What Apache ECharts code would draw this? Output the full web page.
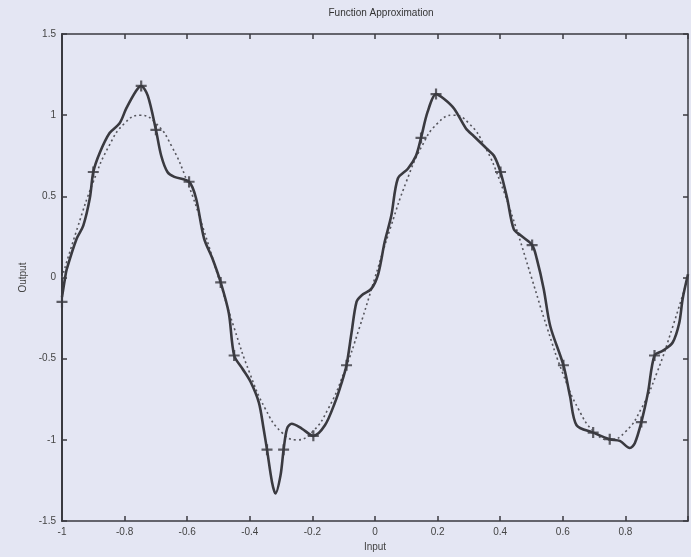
<!DOCTYPE html>
<html>
<head>
<meta charset="utf-8">
<script src="https://cdn.jsdelivr.net/npm/echarts@6/dist/echarts.min.js"></script>
<style>
  html, body { margin: 0; padding: 0; background: #e4e6f3; }
  #container { width: 691px; height: 557px; }
</style>
</head>
<body>
<div id="container"></div>
<script>
// target function (dotted)
var targetX = [-1, -0.95, -0.9, -0.85, -0.8, -0.75, -0.7, -0.65, -0.6, -0.55, -0.5,
  -0.45, -0.4, -0.35, -0.3, -0.25, -0.2, -0.15, -0.1, -0.05, 0,
  0.05, 0.1, 0.15, 0.2, 0.25, 0.3, 0.35, 0.4, 0.45, 0.5,
  0.55, 0.6, 0.65, 0.7, 0.75, 0.8, 0.85, 0.9, 0.95, 1];
var targetY = [0, 0.31, 0.59, 0.81, 0.95, 1, 0.95, 0.81, 0.59, 0.31, 0,
  -0.31, -0.59, -0.81, -0.95, -1, -0.95, -0.81, -0.59, -0.31, 0,
  0.31, 0.59, 0.81, 0.95, 1, 0.95, 0.81, 0.59, 0.31, 0,
  -0.31, -0.59, -0.81, -0.95, -1, -0.95, -0.81, -0.59, -0.31, 0];

// network output (solid)
var netX = [-1, -0.99, -0.985, -0.953, -0.932, -0.911, -0.9, -0.879, -0.848, -0.816, -0.795,
  -0.763, -0.747, -0.726, -0.7, -0.683, -0.663, -0.641, -0.594, -0.572, -0.546,
  -0.52, -0.493, -0.467, -0.45, -0.424, -0.398, -0.371, -0.356, -0.345, -0.329,
  -0.318, -0.302, -0.292, -0.281, -0.266, -0.234, -0.197, -0.16, -0.128, -0.107,
  -0.091, -0.075, -0.059, -0.043, -0.012, 0.01, 0.031, 0.052, 0.073, 0.105,
  0.131, 0.147, 0.168, 0.195, 0.221, 0.253, 0.29, 0.316, 0.359, 0.38,
  0.401, 0.422, 0.443, 0.465, 0.502, 0.517, 0.539, 0.56, 0.602, 0.623,
  0.644, 0.697, 0.75, 0.782, 0.814, 0.83, 0.851, 0.872, 0.893, 0.92,
  0.951, 0.972, 0.983, 1];
var netY = [-0.12, 0, 0.05, 0.24, 0.32, 0.49, 0.65, 0.77, 0.89, 0.95, 1.04,
  1.15, 1.18, 1.12, 0.91, 0.75, 0.65, 0.62, 0.59, 0.49, 0.24,
  0.12, -0.03, -0.22, -0.48, -0.56, -0.64, -0.77, -0.93, -1.06, -1.26,
  -1.33, -1.22, -1.06, -0.93, -0.9, -0.93, -0.975, -0.91, -0.77, -0.65,
  -0.54, -0.34, -0.15, -0.11, -0.07, 0.02, 0.22, 0.38, 0.61, 0.67,
  0.75, 0.86, 1.02, 1.13, 1.1, 1.04, 0.92, 0.87, 0.79, 0.75,
  0.65, 0.49, 0.3, 0.26, 0.2, 0.115, -0.07, -0.3, -0.54, -0.73,
  -0.91, -0.955, -0.996, -1.006, -1.05, -1.02, -0.89, -0.71, -0.48, -0.45,
  -0.4, -0.28, -0.13, 0.02];

// '+' markers
var markX = [-1, -0.9, -0.747, -0.7, -0.594, -0.493, -0.45, -0.345, -0.292, -0.197, -0.091,
  0.147, 0.195, 0.401, 0.502, 0.602, 0.697, 0.75, 0.851, 0.893];
var markY = [-0.15, 0.65, 1.18, 0.91, 0.59, -0.03, -0.48, -1.06, -1.06, -0.975, -0.54,
  0.86, 1.13, 0.65, 0.2, -0.54, -0.955, -0.996, -0.89, -0.48];

var xTicks = { min: -1, max: 1, interval: 0.2 };
var yTicks = { min: -1.5, max: 1.5, interval: 0.5 };

function pairs(xs, ys) {
  return xs.map(function (x, i) { return [x, ys[i]]; });
}

var dom = document.getElementById("container");
var myChart = echarts.init(dom);

var ink = "#3a3a40";
var labelStyle = { color: "#444", fontSize: 10, fontFamily: "Liberation Sans Narrow, Liberation Sans, sans-serif" };
var plus = "path://M4,0H6V4H10V6H6V10H4V6H0V4H4Z";

function frameAxis(extra) {
  return Object.assign({
    type: "value",
    axisLine: { onZero: false, lineStyle: { color: ink, width: 1.5 } },
    axisTick: { inside: true, length: 5, lineStyle: { color: ink, width: 1.5 } },
    axisLabel: { show: false },
    splitLine: { show: false }
  }, extra);
}

var option = {
  backgroundColor: "#e4e6f3",
  animation: false,
  title: {
    text: "Function Approximation",
    left: 376,
    textAlign: "center",
    top: 3,
    textStyle: { color: "#333", fontSize: 10, fontWeight: "normal", fontFamily: labelStyle.fontFamily }
  },
  grid: { left: 62, right: 2, top: 34, bottom: 35 },
  xAxis: [
    frameAxis({
      position: "bottom",
      min: xTicks.min, max: xTicks.max, interval: xTicks.interval,
      name: "Input", nameLocation: "middle", nameGap: 18,
      nameTextStyle: labelStyle,
      axisLabel: Object.assign({ margin: 6, formatter: function (v) { return v === 1 ? "" : String(Math.round(v * 10) / 10); } }, labelStyle)
    }),
    frameAxis({
      position: "top",
      min: xTicks.min, max: xTicks.max, interval: xTicks.interval
    })
  ],
  yAxis: [
    frameAxis({
      position: "left",
      min: yTicks.min, max: yTicks.max, interval: yTicks.interval,
      name: "Output", nameLocation: "middle", nameGap: 16, nameRotate: 90,
      nameTextStyle: labelStyle,
      axisLine: { onZero: false, lineStyle: { color: ink, width: 2 } },
      axisLabel: Object.assign({ margin: 6 }, labelStyle)
    }),
    frameAxis({
      position: "right",
      min: yTicks.min, max: yTicks.max, interval: yTicks.interval
    })
  ],
  series: [
    {
      name: "Target",
      type: "line",
      smooth: true,
      symbol: "none",
      data: pairs(targetX, targetY),
      lineStyle: { color: "#55555c", width: 1.6, type: [2, 3] }
    },
    {
      name: "Output",
      type: "line",
      smooth: 0.3,
      symbol: "none",
      data: pairs(netX, netY),
      lineStyle: { color: ink, width: 2.6 }
    },
    {
      name: "Points",
      type: "scatter",
      symbol: plus,
      symbolSize: 11,
      data: pairs(markX, markY),
      itemStyle: { color: ink }
    }
  ]
};

if (option && typeof option === "object") {
  myChart.setOption(option, true);
}
</script>
</body>
</html>
